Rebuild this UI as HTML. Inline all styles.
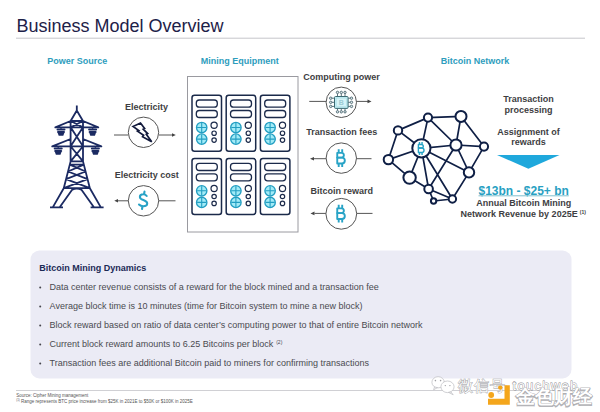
<!DOCTYPE html>
<html><head><meta charset="utf-8">
<style>
html,body{margin:0;padding:0;background:#fff;width:600px;height:412px;overflow:hidden}
svg{display:block}
text{font-family:"Liberation Sans",sans-serif}
.h{font-size:9px;font-weight:bold;fill:#2e9dbd}
.l{font-size:9px;font-weight:bold;fill:#3e3e42}
.b{font-size:9px;fill:#4a4a50}
</style></head>
<body>
<svg width="600" height="412" viewBox="0 0 600 412">
<!-- title -->
<text x="16.5" y="31.7" font-size="18" fill="#1d2148">Business Model Overview</text>
<line x1="16" y1="38.2" x2="585" y2="38.2" stroke="#c6c6ca" stroke-width="1"/>

<!-- section headers -->
<text class="h" x="47.3" y="63.7">Power Source</text>
<text class="h" x="200.8" y="63.7">Mining Equipment</text>
<text class="h" x="440.8" y="63.7">Bitcoin Network</text>

<!-- tower -->
<g id="tower" fill="none" stroke="#1b2a62" stroke-width="1.8" stroke-linejoin="round">
<path d="M76.8,105.5 V111 M70.6,121 L76.8,110.5 L83.0,121 M70.6,121 V161.4 M83.0,121 V161.4 M70.6,121 H83.0 M70.6,127.3 H83.0 M70.6,146.3 H83.0 M70.6,161.4 H83.0 M70.6,121 L83.0,127.3 M83.0,121 L70.6,127.3 M70.6,127.3 L83.0,146.3 M83.0,127.3 L70.6,146.3 M70.6,146.3 L83.0,161.4 M83.0,146.3 L70.6,161.4 M70.6,121 L55.3,127.3 H70.6 M83.0,121 L98.3,127.3 H83.0 M70.6,139 L52.2,146.3 H70.6 M83.0,139 L101.4,146.3 H83.0 M70.6,161.4 L63.74,188.2 L52.6,207.6 M83.0,161.4 L89.86,188.2 L101.0,207.6 M69.78,164.6 H83.82 M69.78,164.6 L85.59,171.5 M83.82,164.6 L68.01,171.5 M68.01,171.5 L87.56,179.2 M85.59,171.5 L66.04,179.2 M66.04,179.2 L89.86,188.2 M87.56,179.2 L63.74,188.2 M63.74,188.2 H89.86 M59.5,207.6 L72.3,189.6 Q76.8,187.6 81.3,189.6 L94.1,207.6 M50,207.3 H63 M90.6,207.3 H103.6"/>
</g>
<g fill="#1b2a62"><rect x="60.3" y="127.3" width="1.4" height="1.5"/><rect x="56.5" y="128.5" width="9" height="2" rx="1"/><rect x="57" y="130.9" width="8" height="2" rx="1"/><path d="M57.7,133 H64.3 L63.3,135.8 H58.7 Z"/><rect x="91.9" y="127.3" width="1.4" height="1.5"/><rect x="88.1" y="128.5" width="9" height="2" rx="1"/><rect x="88.6" y="130.9" width="8" height="2" rx="1"/><path d="M89.3,133 H95.9 L94.9,135.8 H90.3 Z"/><rect x="57.5" y="146.3" width="1.4" height="1.5"/><rect x="53.7" y="147.5" width="9" height="2" rx="1"/><rect x="54.2" y="149.9" width="8" height="2" rx="1"/><path d="M54.9,152 H61.5 L60.5,154.8 H55.9 Z"/><rect x="94.7" y="146.3" width="1.4" height="1.5"/><rect x="90.9" y="147.5" width="9" height="2" rx="1"/><rect x="91.4" y="149.9" width="8" height="2" rx="1"/><path d="M92.1,152 H98.7 L97.7,154.8 H93.1 Z"/></g>

<!-- electricity flow -->
<text class="l" x="124.9" y="109.7">Electricity</text>
<g stroke="#555" stroke-width="1" fill="none">
  <line x1="114" y1="135" x2="128.3" y2="135"/>
  <line x1="158.8" y1="135" x2="172" y2="135"/>
  <circle cx="143.5" cy="132.3" r="15.2" fill="#fff"/>
</g>
<path d="M172,133.2 L175.8,135 L172,136.8 Z" fill="#444"/>
<path d="M133.05,126.5 L140.5,123.1 L144.6,128.5 L143.2,129.2 L147.65,133.6 L146.3,134.3 L151.7,141.8 L142.56,136.7 L143.6,135.3 L137.5,131.2 L138.8,130.6 Z" fill="#fff" stroke="#121a3c" stroke-width="1.7" stroke-linejoin="miter" stroke-miterlimit="3"/>

<text class="l" x="114.75" y="178.45">Electricity cost</text>
<g stroke="#555" stroke-width="1" fill="none">
  <line x1="118" y1="200.8" x2="128.3" y2="200.8"/>
  <line x1="158.8" y1="200.8" x2="175.5" y2="200.8"/>
  <circle cx="143.5" cy="200.8" r="15.2" fill="#fff"/>
</g>
<path d="M118,199 L114.3,200.8 L118,202.6 Z" fill="#444"/>
<path d="M146.7,196 C145.9,194.9 144.8,194.3 143.2,194.3 C141.2,194.3 139.9,195.4 139.9,196.9 C139.9,198.7 141.5,199.4 143.4,200.1 C145.5,200.9 147.2,201.7 147.2,203.5 C147.2,205.2 145.6,206.2 143.2,206.2 C141.3,206.2 140,205.5 139,204.5 M144.5,191.6 L144,194.3 M142.5,206.2 L142,209" fill="none" stroke="#28a2c6" stroke-width="2.1" stroke-linecap="round"/>

<!-- mining box -->
<rect x="187.5" y="76.5" width="110.5" height="155.5" fill="#fff" stroke="#9a9aa0" stroke-width="1"/>
<defs>
  <g id="srv">
    <rect x="0" y="0" width="29.5" height="56" rx="2.5" fill="#fff" stroke="#1b2a4a" stroke-width="1.5"/>
    <rect x="4.3" y="4.7" width="21" height="7.2" rx="3" fill="none" stroke="#1b2a4a" stroke-width="1.3"/>
    <rect x="4.3" y="15.2" width="21" height="7" rx="3" fill="none" stroke="#1b2a4a" stroke-width="1.3"/>
    <g stroke="#229ec2" stroke-width="1.35" fill="#a2ebf7">
      <circle cx="9.7" cy="32.2" r="5.2"/>
      <circle cx="9.7" cy="43.8" r="5.2"/>
    </g>
    <g stroke="#229ec2" stroke-width="1.1" fill="none">
      <path d="M9.7,27.6 v9.2 M5.1,32.2 h9.2 M9.7,39.2 v9.2 M5.1,43.8 h9.2"/>
    </g>
    <g stroke="#1b2a4a" stroke-width="1.2" fill="none">
      <circle cx="22.1" cy="29.9" r="3.1"/>
      <circle cx="22.1" cy="37.9" r="2.2"/>
      <circle cx="22.1" cy="44.8" r="2.2"/>
    </g>
  </g>
</defs>
<use href="#srv" x="192" y="95.3"/>
<use href="#srv" x="226.2" y="95.3"/>
<use href="#srv" x="260.4" y="95.3"/>
<use href="#srv" x="192" y="158.6"/>
<use href="#srv" x="226.2" y="158.6"/>
<use href="#srv" x="260.4" y="158.6"/>

<!-- middle flows -->
<text class="l" x="303.25" y="80">Computing power</text>
<g stroke="#555" stroke-width="1" fill="none">
  <line x1="309.25" y1="101.4" x2="326.2" y2="101.4"/>
  <line x1="356.5" y1="101.4" x2="368" y2="101.4"/>
  <circle cx="341.3" cy="102.3" r="15.2" fill="#fff"/>
</g>
<path d="M367.5,99.6 L371.5,101.4 L367.5,103.2 Z" fill="#444"/>
<g id="chip">
  <g stroke="#4a6670" stroke-width="0.9" fill="#dfe8ea">
    <path d="M337.5,93.6 V96.5 M341.3,93.6 V96.5 M345,93.6 V96.5 M337.5,108.4 V110.6 M341.3,108.4 V110.6 M345,108.4 V110.6 M331.9,98.2 H334.5 M331.9,102.3 H334.5 M331.9,106.4 H334.5 M348.1,98.2 H350.3 M348.1,102.3 H350.3 M348.1,106.4 H350.3"/>
    <circle cx="337.5" cy="92.4" r="1.2"/><circle cx="341.3" cy="92.4" r="1.2"/><circle cx="345" cy="92.4" r="1.2"/>
    <circle cx="337.5" cy="111.8" r="1.2"/><circle cx="341.3" cy="111.8" r="1.2"/><circle cx="345" cy="111.8" r="1.2"/>
    <circle cx="330.7" cy="98.2" r="1.2"/><circle cx="330.7" cy="102.3" r="1.2"/><circle cx="330.7" cy="106.4" r="1.2"/>
    <circle cx="351.5" cy="98.2" r="1.2"/><circle cx="351.5" cy="102.3" r="1.2"/><circle cx="351.5" cy="106.4" r="1.2"/>
  </g>
  <rect x="334.5" y="96.5" width="13.6" height="11.9" rx="1" fill="#bdebf2" stroke="#3d6a72" stroke-width="1"/>
  <rect x="336.2" y="98.1" width="10.2" height="8.7" fill="#d6f4f8" stroke="#9fd6de" stroke-width="0.4"/>
  <text x="341.4" y="105" text-anchor="middle" font-size="7" font-weight="bold" fill="#9ccbd4">B</text>
</g>

<defs>
  <g id="btc" fill="none" stroke="#27a3c6" stroke-width="1.9" stroke-linejoin="round">
    <path d="M-4.05,-4.65 H0.2 A2.375,2.375 0 0 1 0.2,0.1 H-4.05 Z"/>
    <path d="M-4.05,0.1 H0.55 A2.975,2.975 0 0 1 0.55,6.05 H-4.05 Z"/>
    <path d="M-2.6,-8.2 V-4.65 M0.9,-8.2 V-4.65 M-2.6,6.05 V9.6 M0.9,6.05 V9.6"/>
  </g>
</defs>

<text class="l" x="306.25" y="135.3">Transaction fees</text>
<g stroke="#555" stroke-width="1" fill="none">
  <line x1="314" y1="158.7" x2="326.2" y2="158.7"/>
  <line x1="356.5" y1="158.7" x2="371.5" y2="158.7"/>
  <circle cx="341.3" cy="158.1" r="15.2" fill="#fff"/>
</g>
<path d="M314,156.9 L310,158.7 L314,160.5 Z" fill="#444"/>
<use href="#btc" x="341.3" y="157.5"/>

<text class="l" x="310.45" y="194">Bitcoin reward</text>
<g stroke="#555" stroke-width="1" fill="none">
  <line x1="314.5" y1="213.4" x2="326.2" y2="213.4"/>
  <line x1="356.5" y1="213.4" x2="372.5" y2="213.4"/>
  <circle cx="341.3" cy="213.8" r="15.4" fill="#fff"/>
</g>
<path d="M314.5,211.6 L310.5,213.4 L314.5,215.2 Z" fill="#444"/>
<use href="#btc" x="341.3" y="213"/>

<!-- network -->
<g id="net" stroke="#0f1f45" stroke-width="1.7" fill="#fff">
  <path fill="none" d="M398,130.4 L428,117.6 M398,130.4 L421.4,148.3 M398,130.4 L388.4,159.6 M428,117.6 L461,116.4 M428,117.6 L421.4,148.3 M428,117.6 L456,145 M461,116.4 L456,145 M461,116.4 L484,146.6 M456,145 L484,146.6 M421.4,148.3 L456,145 M421.4,148.3 L388.4,159.6 M421.4,148.3 L409.6,177.6 M421.4,148.3 L428.6,189 M421.4,148.3 L452.4,199 M421.4,148.3 L469,172.4 M456,145 L428.6,189 M456,145 L469,172.4 M484,146.6 L469,172.4 M469,172.4 L452.4,199 M388.4,159.6 L409.6,177.6 M409.6,177.6 L428.6,189 M428.6,189 L433.6,201 M433.6,201 L452.4,199 M428.6,189 L452.4,199"/>
  <g stroke-width="2">
  <circle cx="398" cy="130.4" r="4.2"/>
  <circle cx="428" cy="117.6" r="4.1"/>
  <circle cx="461" cy="116.4" r="5.5"/>
  <circle cx="421.4" cy="148.3" r="9.1"/>
  <circle cx="456" cy="145" r="5.6"/>
  <circle cx="484" cy="146.6" r="4.1"/>
  <circle cx="388.4" cy="159.6" r="4.7"/>
  <circle cx="409.6" cy="177.6" r="6.2"/>
  <circle cx="469" cy="172.4" r="5.2"/>
  <circle cx="428.6" cy="189" r="4.3"/>
  <circle cx="433.6" cy="201" r="2.7"/>
  <circle cx="452.4" cy="199" r="3.7"/>
  </g>
</g>
<use href="#btc" x="421.4" y="148" transform="translate(421.4 148) scale(0.74) translate(-421.4 -148)"/>

<!-- right texts -->
<text class="l" x="528.6" y="102" text-anchor="middle">Transaction</text>
<text class="l" x="528.6" y="112.8" text-anchor="middle">processing</text>
<text class="l" x="528.6" y="134.7" text-anchor="middle">Assignment of</text>
<text class="l" x="528.6" y="145.2" text-anchor="middle">rewards</text>
<path d="M497,155 L559.5,155 L528.4,168.8 Z" fill="#1fa8dc"/>
<text x="523.65" y="194.6" text-anchor="middle" font-size="12" font-weight="bold" fill="#28a0c2">$13bn - $25+ bn</text>
<line x1="478.5" y1="195.8" x2="568.8" y2="195.8" stroke="#5fb0c4" stroke-width="0.8"/>
<text class="l" x="523.65" y="205.75" text-anchor="middle">Annual Bitcoin Mining</text>
<text class="l" x="460.6" y="216.6">Network Revenue by 2025E<tspan font-size="5" dy="-3" dx="2.2">(1)</tspan></text>

<!-- panel -->
<rect x="30.5" y="250.5" width="541" height="128" rx="9" fill="#ebebf5"/>
<text x="39.25" y="271.3" font-size="9" font-weight="bold" fill="#1b2a55">Bitcoin Mining Dynamics</text>
<g fill="#45454c">
<circle cx="40.2" cy="287.5" r="1"/>
<circle cx="40.2" cy="306.5" r="1"/>
<circle cx="40.2" cy="325.5" r="1"/>
<circle cx="40.2" cy="344.5" r="1"/>
<circle cx="40.2" cy="363.5" r="1"/>
</g>
<text class="b" x="49.6" y="290">Data center revenue consists of a reward for the block mined and a transaction fee</text>
<text class="b" x="49.6" y="309">Average block time is 10 minutes (time for Bitcoin system to mine a new block)</text>
<text class="b" x="49.6" y="328">Block reward based on ratio of data center’s computing power to that of entire Bitcoin network</text>
<text class="b" x="49.6" y="347">Current block reward amounts to 6.25 Bitcoins per block<tspan font-size="5" dy="-3.5" dx="3">(2)</tspan></text>
<text class="b" x="49.6" y="366">Transaction fees are additional Bitcoin paid to miners for confirming transactions</text>

<!-- footer -->
<line x1="16" y1="390.5" x2="590" y2="390.5" stroke="#d0d0d4" stroke-width="1"/>
<text x="16.2" y="397" font-size="4.5" fill="#555">Source: Cipher Mining management</text>
<text x="16.2" y="402.5" font-size="4.5" fill="#555"><tspan font-size="3" dy="-1.5">(1)</tspan><tspan dy="1.5"> Range represents BTC price increase from $25K in 2021E to $50K or $100K in 2025E</tspan></text>

<!-- watermark -->
<g id="wm">
  <g fill="#fff" stroke="#bcbcc0" stroke-width="0.7">
    <ellipse cx="438.1" cy="382.3" rx="6.2" ry="5.6"/>
    <path d="M434.5,387 L433.6,389.8 L437.5,387.6 Z"/>
    <ellipse cx="447.5" cy="386.8" rx="6.6" ry="5.8"/>
    <path d="M451,392 L453.2,394.8 L448.6,392.4 Z"/>
  </g>
  <g fill="#a0a0a4"><circle cx="435.4" cy="380.6" r="0.8"/><circle cx="440.6" cy="380.6" r="0.8"/><circle cx="445.3" cy="385.6" r="0.7"/><circle cx="449.9" cy="385.6" r="0.7"/></g>
  <text x="458.3" y="390.5" font-size="14.6" fill="#fff" stroke="#9a9a9e" stroke-width="0.8" paint-order="stroke" letter-spacing="1">微信号</text>
  <text x="505" y="390.5" font-size="9" fill="#fff" stroke="#9a9a9e" stroke-width="0.7" paint-order="stroke">:</text>
  <text x="512.5" y="390.3" font-size="13" fill="#fff" stroke="#8a8a8e" stroke-width="0.8" paint-order="stroke" letter-spacing="1.3">touchweb</text>
  <g fill="#f4a61c">
    <path d="M504.5,385.3 H509.8 V404.8 H488 V398.8 H504.5 Z"/>
    <circle cx="491.2" cy="395" r="2.9"/>
    <circle cx="500.3" cy="387.6" r="2.2"/>
  </g>
  <text x="516.3" y="404" font-size="19.3" font-weight="bold" fill="#9c9ca0" stroke="#b4b4b8" stroke-width="1.2">金色财经</text>
  <text x="515.5" y="403.2" font-size="19.3" font-weight="bold" fill="#fff" stroke="#a0a0a4" stroke-width="0.6" paint-order="stroke">金色财经</text>
</g>
</svg>
</body></html>
